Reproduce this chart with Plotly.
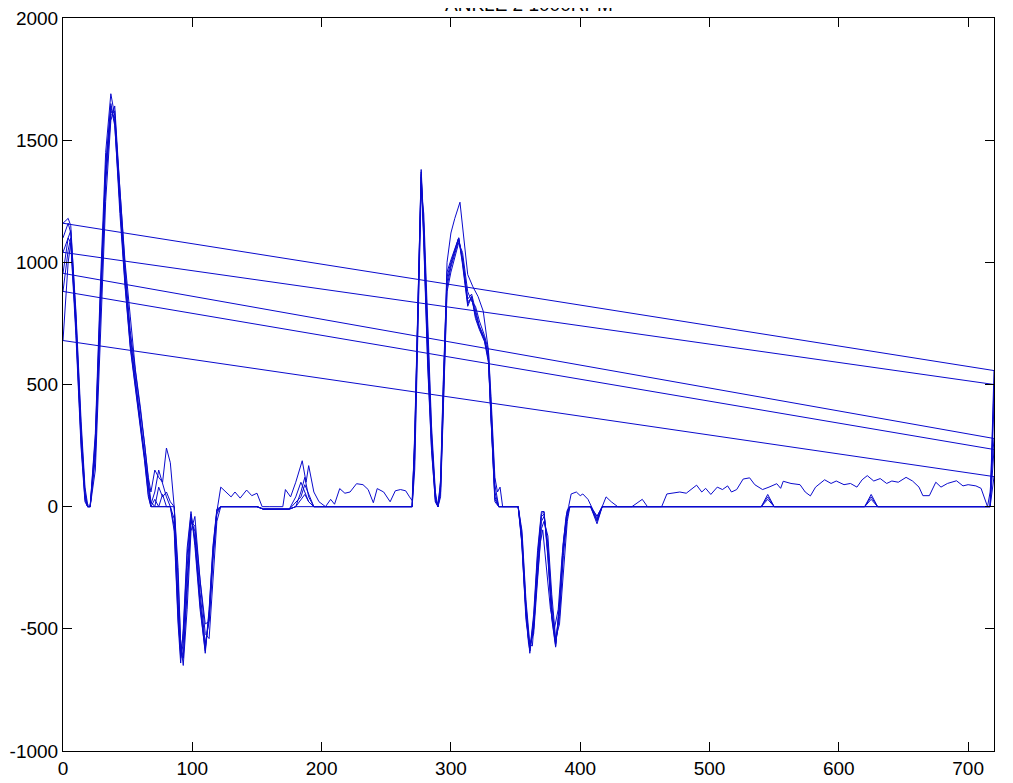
import plotly.graph_objects as go

# Shared sample angles for the regular cycles
X_KEY = [
    0, 4, 6, 10, 14, 17, 19, 21, 25, 29,
    33, 37, 40, 44, 48, 52, 56, 60, 63, 66,
    68, 71, 74, 77, 80, 83, 86, 89, 91, 93,
    96, 99, 102, 106, 110, 113, 116, 119, 122, 150,
    155, 175, 180, 184, 187, 190, 194, 198, 270, 272,
    275, 277, 279, 282, 285, 288, 290, 292, 294, 297,
    300, 303, 306, 309, 313, 316, 319, 322, 326, 329,
    331, 334, 337, 352, 355, 358, 361, 364, 367, 370,
    372, 375, 378, 381, 384, 387, 390, 392, 408, 413,
    417, 540, 545, 550, 620, 625, 630, 714, 717, 720,
]

CYCLE_A = [
    1100, 1160, 1120, 720, 260, 30, 0, 0, 280, 880,
    1380, 1640, 1560, 1220, 910, 660, 500, 330, 200, 50,
    0, 0, 0, 0, 0, 0, -100, -480, -640, -500,
    -170, -20, -160, -420, -590, -420, -160, -10, 0, 0,
    -10, -10, 0, 0, 0, 0, 0, 0, 0, 280,
    1000, 1360, 1100, 600, 240, 20, 0, 100, 480, 940,
    1000, 1050, 1100, 1000, 830, 860, 780, 730, 680, 600,
    350, 30, 0, 0, -150, -440, -590, -460, -200, -30,
    -20, -200, -450, -570, -400, -150, -20, 0, 0, -60,
    0, 0, 0, 0, 0, 0, 0, 0, 0, 557,
]

CYCLE_B = [
    1160, 1180, 1150, 780, 320, 60, 0, 0, 200, 800,
    1320, 1600, 1620, 1260, 950, 700, 520, 360, 230, 80,
    10, 60, 150, 90, 40, 0, 0, -380, -600, -620,
    -300, -60, -100, -350, -560, -470, -220, -30, 0, 0,
    -10, -10, 40, 100, 60, 20, 0, 0, 0, 200,
    950, 1330, 1150, 680, 300, 40, 0, 60, 420, 900,
    980, 1030, 1090, 1020, 850, 870, 800, 740, 690, 620,
    380, 60, 0, 0, -120, -400, -580, -500, -250, -60,
    -40, -150, -400, -560, -450, -200, -40, 0, 0, -40,
    0, 0, 40, 0, 0, 30, 0, 0, 0, 500,
]

# Noisy cycle (own sample angles)
X_C = [
    0, 4, 6, 10, 14, 17, 19, 21, 25, 29,
    33, 37, 40, 44, 48, 52, 56, 60, 63, 66,
    68, 71, 74, 77, 80, 83, 86, 89, 91, 93,
    96, 99, 102, 106, 110, 113, 116, 119, 122, 126,
    130, 133, 137, 142, 146, 150, 154, 160, 170, 172,
    176, 180, 185, 188, 190, 194, 198, 203, 207, 210,
    214, 218, 222, 227, 232, 236, 240, 243, 248, 253,
    257, 261, 265, 268, 270, 272, 275, 277, 279, 282,
    285, 288, 290, 292, 294, 297, 300, 303, 307, 310,
    313, 317, 321, 325, 329, 331, 334, 336, 338, 340,
    352, 354, 357, 360, 363, 366, 369, 371, 374, 377,
    380, 383, 386, 389, 391, 393, 397, 400, 402, 406,
    410, 413, 417, 420, 424, 429, 440, 448, 452, 460,
    463, 467, 472, 477, 482, 486, 490, 494, 497, 501,
    506, 510, 514, 517, 521, 526, 531, 535, 541, 546,
    552, 555, 557, 563, 570, 574, 578, 582, 589, 594,
    598, 604, 609, 614, 618, 622, 627, 632, 637, 641,
    646, 652, 657, 662, 665, 670, 675, 679, 684, 691,
    696, 700, 706, 710, 713, 715, 717, 720,
]
CYCLE_C = [
    1041, 1100, 1080, 700, 240, 20, 0, 0, 300, 920,
    1450, 1690, 1600, 1300, 1000, 780, 560, 400, 260, 120,
    60, 150, 120, 100, 240, 180, 0, -300, -560, -620,
    -350, -60, -80, -300, -480, -470, -200, -20, 80, 60,
    40, 60, 35, 68, 45, 55, 0, 0, 0, 70,
    40, 100, 188, 100, 168, 60, 20, 0, 30, 10,
    74, 55, 60, 94, 90, 70, 16, 74, 60, 20,
    65, 70, 65, 40, 25, 260, 980, 1380, 1150, 650,
    280, 40, 0, 80, 420, 1000, 1120, 1180, 1246, 1100,
    950, 900, 860, 800, 640, 450, 120, 60, 80, 0,
    0, -80, -350, -560, -570, -350, -150, -95, -250, -420,
    -500, -420, -200, -40, 0, 52, 60, 45, 52, 30,
    -14, -40, 0, 40, 20, 0, 0, 30, 0, 0,
    0, 52, 55, 60, 55, 70, 88, 60, 75, 50,
    80, 70, 85, 60, 70, 113, 118, 90, 70, 80,
    94, 75, 104, 95, 90, 60, 44, 80, 110, 95,
    105, 90, 95, 80, 110, 127, 105, 115, 95, 105,
    100, 120, 105, 80, 45, 45, 100, 80, 95, 106,
    85, 90, 85, 75, 32, 0, 60, 279,
]

CYCLE_D = [
    955, 1100, 1130, 800, 350, 80, 10, 0, 150, 700,
    1250, 1580, 1640, 1300, 980, 720, 560, 400, 260, 110,
    20, 0, 80, 40, 60, 20, 0, -250, -560, -650,
    -420, -100, -40, -300, -520, -540, -300, -60, 0, 0,
    -10, -10, 0, 60, 120, 40, 0, 0, 0, 150,
    900, 1300, 1200, 720, 330, 60, 0, 40, 380, 880,
    960, 1020, 1080, 1040, 880, 840, 820, 760, 700, 640,
    420, 90, 0, 0, -100, -380, -560, -520, -300, -90,
    -60, -120, -360, -540, -480, -250, -60, 0, 0, -50,
    0, 0, 50, 0, 0, 40, 0, 0, 0, 234,
]

CYCLE_E = [
    881, 1050, 1100, 760, 300, 50, 0, 0, 220, 820,
    1350, 1620, 1590, 1240, 930, 680, 510, 350, 210, 70,
    0, 30, 0, 50, 0, 0, -50, -420, -620, -560,
    -250, -40, -130, -380, -580, -450, -190, -20, 0, 0,
    -10, -10, 20, 40, 90, 50, 0, 0, 0, 240,
    980, 1350, 1120, 640, 270, 30, 0, 80, 450, 920,
    990, 1040, 1100, 1010, 840, 850, 790, 735, 685, 610,
    360, 40, 0, 0, -140, -420, -600, -480, -220, -40,
    -30, -180, -430, -560, -420, -170, -30, 0, 0, -70,
    0, 0, 30, 0, 0, 50, 0, 0, 0, 123,
]

CYCLE_F = [
    680, 1000, 1080, 740, 280, 40, 0, 0, 250, 850,
    1400, 1650, 1570, 1200, 900, 650, 490, 320, 190, 40,
    0, 0, 0, 0, 0, 0, -80, -460, -600, -520,
    -200, -30, -140, -400, -600, -430, -170, -15, 0, 0,
    -10, -10, 0, 30, 50, 20, 0, 0, 0, 300,
    1020, 1370, 1080, 580, 230, 20, 0, 110, 500, 960,
    1010, 1060, 1100, 990, 820, 860, 770, 725, 675, 590,
    340, 20, 0, 0, -160, -460, -590, -440, -180, -20,
    -20, -210, -460, -575, -390, -140, -15, 0, 0, -55,
    0, 0, 0, 0, 0, 0, 0, 0, 0, 420,
]

X_TICKS = [0, 100, 200, 300, 400, 500, 600, 700]
Y_TICKS = [-1000, -500, 0, 500, 1000, 1500, 2000]
Y_TICK_TEXT = ["-1000", "-500", "0", "500", "1000", "1500", "2000"]
TITLE = "ANKLE 2 1000RPM"

cycles = [
    (X_KEY, CYCLE_A),
    (X_KEY, CYCLE_B),
    (X_C, CYCLE_C),
    (X_KEY, CYCLE_D),
    (X_KEY, CYCLE_E),
    (X_KEY, CYCLE_F),
]
xs, ys = [], []
for cx, cy in cycles:
    assert len(cx) == len(cy), (len(cx), len(cy))
    xs.extend(cx)
    ys.extend(cy)

fig = go.Figure()
fig.add_trace(go.Scatter(x=xs, y=ys, mode="lines",
                         line=dict(color="rgb(10,10,205)", width=1),
                         hoverinfo="skip", showlegend=False))

axis_common = dict(showline=True, linecolor="black", linewidth=1, mirror="allticks",
                   ticks="inside", ticklen=9, tickcolor="black", showgrid=False,
                   zeroline=False, automargin=False, ticklabeloverflow="allow",
                   tickfont=dict(family="Liberation Sans, Arial", size=19, color="black"))

fig.update_xaxes(range=[0, 720], tickvals=X_TICKS, ticktext=[str(v) for v in X_TICKS], **axis_common)
fig.update_yaxes(range=[-1000, 2000], tickvals=Y_TICKS, ticktext=Y_TICK_TEXT, **axis_common)

fig.add_annotation(text=TITLE, x=0.5, xref="paper", xanchor="center",
                   y=1.0, yref="paper", yanchor="bottom", yshift=1, showarrow=False,
                   font=dict(family="Liberation Sans, Arial", size=19, color="black"))

fig.update_layout(
    width=1013, height=783,
    margin=dict(l=55, r=27, t=10, b=40),
    paper_bgcolor="white", plot_bgcolor="white",
)

fig.write_html("out.html")
